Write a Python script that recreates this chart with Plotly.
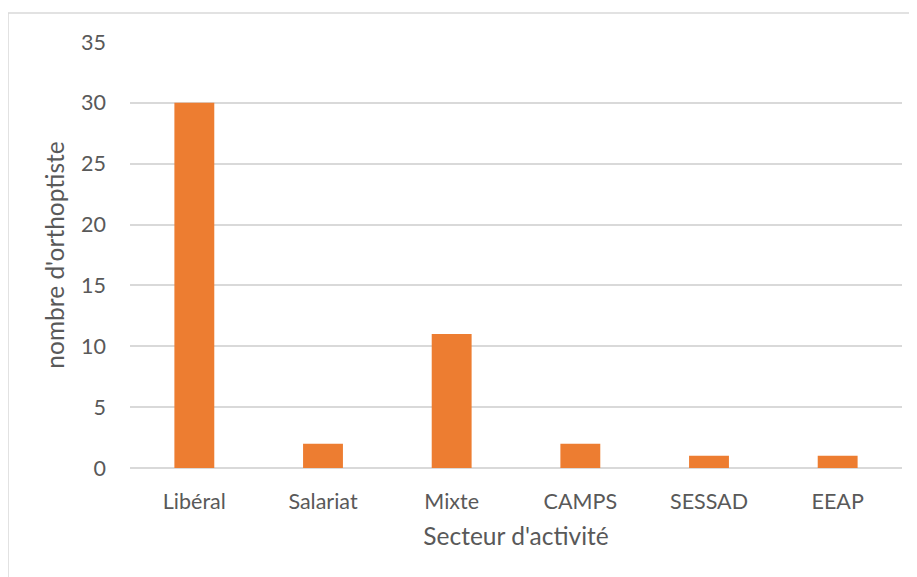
import plotly.graph_objects as go

categories = ["Libéral", "Salariat", "Mixte", "CAMPS", "SESSAD", "EEAP"]
values = [30, 2, 11, 2, 1, 1]
y_ticks = [0, 5, 10, 15, 20, 25, 30, 35]

# page body has an 8px margin, so figure coords = screen coords - 8
OFF = 8
W, H = 917, 577
L, R, T, B = 130 - OFF, 902 - OFF, 42 - OFF, 468 - OFF

fig = go.Figure(go.Bar(x=categories, y=values, marker_color="#ED7D31",
                       marker_line_width=0))

def px(x):
    return (x - OFF - L) / (R - L)

def py(y):
    return (B - (y - OFF)) / (B - T)

fig.add_shape(type="rect", xref="paper", yref="paper",
              x0=px(8), x1=px(916), y0=py(600), y1=py(13),
              line=dict(color="#D9D9D9", width=1.5), fillcolor="rgba(0,0,0,0)",
              layer="below")

font = "Lato, Open Sans, sans-serif"
fig.update_layout(
    width=W, height=H,
    margin=dict(l=L, r=W - R, t=T, b=H - B),
    paper_bgcolor="white", plot_bgcolor="white",
    bargap=0.69,
    showlegend=False,
    font=dict(family=font, color="#595959", size=21.5),
    xaxis=dict(showgrid=False, showline=False, ticks="", tickfont=dict(size=21.5),
               ticklabelstandoff=18,
               title=dict(text="Secteur d'activité", font=dict(size=24.5), standoff=15)),
    yaxis=dict(range=[0, 35], tickvals=y_ticks, showgrid=True, gridcolor="#D9D9D9",
               gridwidth=1.5, zeroline=True, zerolinecolor="#D9D9D9", zerolinewidth=1.5,
               showline=False, ticks="", tickfont=dict(size=21.5),
               ticklabelstandoff=23,
               title=dict(text="nombre d'orthoptiste", font=dict(size=24.5), standoff=9)),
)

fig.write_html("out.html")
